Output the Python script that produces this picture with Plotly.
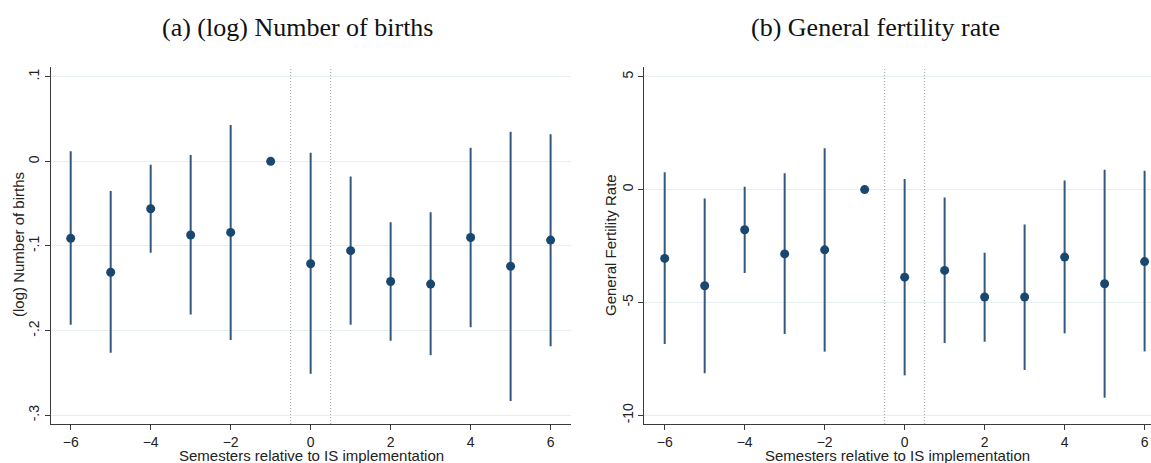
import plotly.graph_objects as go

semesters = [-6, -5, -4, -3, -2, -1, 0, 1, 2, 3, 4, 5, 6]

# Panel (a): (log) number of births
births_coef = [-0.091, -0.131, -0.056, -0.087, -0.084, 0.0, -0.121, -0.1055, -0.142, -0.145, -0.090, -0.124, -0.093]
births_hi = [0.012, -0.035, -0.004, 0.0075, 0.043, 0.0, 0.010, -0.018, -0.072, -0.060, 0.016, 0.035, 0.032]
births_lo = [-0.193, -0.226, -0.108, -0.181, -0.211, 0.0, -0.251, -0.193, -0.212, -0.229, -0.196, -0.283, -0.2185]

# Panel (b): general fertility rate
gfr_coef = [-3.05, -4.26, -1.78, -2.85, -2.67, 0.0, -3.88, -3.58, -4.76, -4.76, -2.99, -4.17, -3.19]
gfr_hi = [0.77, -0.40, 0.12, 0.72, 1.83, 0.0, 0.47, -0.35, -2.80, -1.55, 0.40, 0.88, 0.83]
gfr_lo = [-6.84, -8.14, -3.70, -6.40, -7.18, 0.0, -8.23, -6.80, -6.74, -7.99, -6.37, -9.22, -7.17]

x_ticks = [-6, -4, -2, 0, 2, 4, 6]
births_ticks = [0.1, 0.0, -0.1, -0.2, -0.3]
births_ticktext = [".1", "0", "-.1", "-.2", "-.3"]
gfr_ticks = [5, 0, -5, -10]
gfr_ticktext = ["5", "0", "-5", "-10"]

titles = ["(a) (log) Number of births", "(b) General fertility rate"]
ytitles = ["(log) Number of births", "General Fertility Rate"]
xtitle = "Semesters relative to IS implementation"

W, H = 1151, 463
MARK = "#1a476f"
LINE = "#33587f"
GRID = "#e7eff1"
AX = "#3a3a3a"
SANS = "Liberation Sans, Arial"

def px_x(p):
    return p / W

def px_y(p):
    return (H - p) / H

fig = go.Figure()

def add_panel(coef, hi, lo, xa, ya):
    plus = [h - c for h, c in zip(hi, coef)]
    minus = [c - l for c, l in zip(coef, lo)]
    fig.add_trace(go.Scatter(
        x=semesters, y=coef, mode="markers",
        marker=dict(color=MARK, size=9),
        error_y=dict(type="data", symmetric=False, array=plus, arrayminus=minus,
                     color=LINE, thickness=2, width=0),
        xaxis=xa, yaxis=ya, showlegend=False, cliponaxis=False))

add_panel(births_coef, births_hi, births_lo, "x", "y")
add_panel(gfr_coef, gfr_hi, gfr_lo, "x2", "y2")

ydom = [px_y(424), px_y(66.7)]
common_x = dict(showgrid=False, zeroline=False, showline=True, linecolor=AX, linewidth=1,
                ticks="outside", ticklen=5, tickcolor=AX, tickvals=x_ticks,
                tickfont=dict(family=SANS, size=14, color="#222"),
                automargin=False)
common_y = dict(showgrid=True, gridcolor=GRID, gridwidth=1, zeroline=False, showline=True,
                linecolor=AX, linewidth=1, ticks="outside", ticklen=5, tickcolor=AX,
                tickangle=-90, tickfont=dict(family=SANS, size=14, color="#222"),
                automargin=False)

fig.update_layout(
    width=W, height=H,
    margin=dict(l=0, r=0, t=0, b=0),
    paper_bgcolor="white", plot_bgcolor="white",
    xaxis=dict(domain=[px_x(50.7), px_x(571)], range=[-6.5, 6.51], anchor="y", **common_x),
    yaxis=dict(domain=ydom, range=[-0.3103, 0.1118], anchor="x",
               tickvals=births_ticks, ticktext=births_ticktext, **common_y),
    xaxis2=dict(domain=[px_x(644.3), 1.0], range=[-6.51, 6.16], anchor="y2", **common_x),
    yaxis2=dict(domain=ydom, range=[-10.385, 5.443], anchor="x2",
                tickvals=gfr_ticks, ticktext=gfr_ticktext, **common_y),
)

for xa, ya in [("x", "y"), ("x2", "y2")]:
    for xv in [-0.5, 0.5]:
        fig.add_shape(type="line", xref=xa, yref=f"{ya} domain", x0=xv, x1=xv, y0=0, y1=1,
                      line=dict(color="#a0a0a0", width=1, dash="1px,2px"))

# Panel titles
for txt, cx in zip(titles, [297, 875]):
    fig.add_annotation(text=txt, x=px_x(cx), y=px_y(27), xref="paper", yref="paper",
                       showarrow=False, xanchor="center", yanchor="middle",
                       font=dict(family="Liberation Serif, Times New Roman", size=26, color="#111"))

# Axis titles
for cx in [311, 897]:
    fig.add_annotation(text=xtitle, x=px_x(cx), y=px_y(455), xref="paper", yref="paper",
                       showarrow=False, xanchor="center", yanchor="middle",
                       font=dict(family=SANS, size=15, color="#222"))
for txt, cx in zip(ytitles, [18, 610]):
    fig.add_annotation(text=txt, x=px_x(cx), y=px_y(245), xref="paper", yref="paper",
                       showarrow=False, xanchor="center", yanchor="middle", textangle=-90,
                       font=dict(family=SANS, size=15, color="#222"))

fig.write_html("out.html")
